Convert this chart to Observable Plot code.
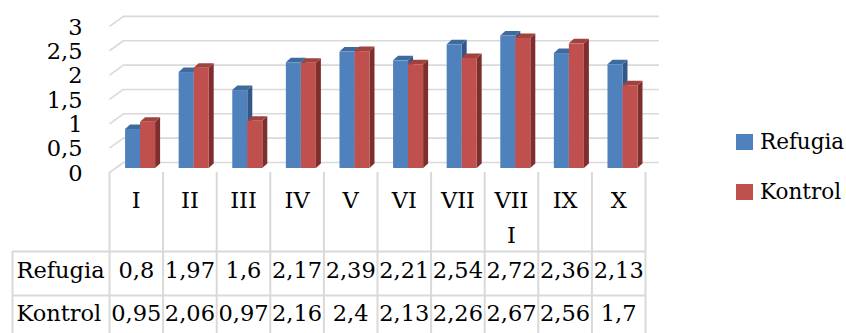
<!DOCTYPE html>
<html><head><meta charset="utf-8">
<script src="https://cdn.jsdelivr.net/npm/d3@7"></script>
<script src="https://cdn.jsdelivr.net/npm/@observablehq/plot@0.6"></script>
<style>
body{margin:0;background:#fff;}
#wrap{position:relative;width:846px;height:333px;font-family:"DejaVu Serif",serif;overflow:hidden;}
#wrap svg{position:absolute;left:0;top:0;}
.legend{position:absolute;left:736px;top:130px;font-size:21.5px;color:#000;line-height:24px;}
.legend .item{display:flex;align-items:center;height:24px;margin-bottom:26px;white-space:nowrap;}
.legend .sw{width:17px;height:16px;margin-right:7px;display:inline-block;}
</style></head><body><div id="wrap"></div>
<script>
// ---- data ----
const categories = ["I","II","III","IV","V","VI","VII","VIII","IX","X"];
const refugia = [0.8,1.97,1.6,2.17,2.39,2.21,2.54,2.72,2.36,2.13];
const kontrol = [0.95,2.06,0.97,2.16,2.4,2.13,2.26,2.67,2.56,1.7];
const seriesNames = ["Refugia","Kontrol"];
const yTicks = [0,0.5,1,1.5,2,2.5,3];

// ---- styles ----
const frontColors = ["#4F81BD","#C0504D"];
const topColors = ["#3E6A9D","#A2423F"];
const sideColors = ["#34578A","#7E2F2D"];
const gridColor = "#D9D9D9";
const fontSize = 22.5;

// ---- layout ----
const W = 846, H = 333;
const xLeft = 109, xRight = 645, y0 = 168, pxPerUnit = 48.7;
const barW = 0.28, barOff = [0.3, 0.58];
const depthDx = 5, depthDy = 4.5;       // bar depth (px)
const wallDx = 14, wallBack = 6, floorFront = 4; // wall/floor depth (px)
const ux = categories.length / (xRight - xLeft);
const uy = 1 / pxPerUnit;
const fmt = v => String(v).replace(".", ",");
const wrap = s => s.length > 3 ? [s.slice(0,3), s.slice(3)] : [s, ""];

const values = [refugia, kontrol];
const bars = [];
categories.forEach((c, i) => values.forEach((vals, s) => {
  const x1 = i + barOff[s];
  bars.push({id: c + "-" + s, s, x1, x2: x1 + barW, v: vals[i]});
}));
const dX = depthDx * ux, dY = depthDy * uy;
const sides = bars.flatMap(b => [
  {id: b.id, s: b.s, x: b.x2, y1: 0, y2: b.v},
  {id: b.id, s: b.s, x: b.x2 + dX, y1: dY, y2: b.v + dY}
]);
const tops = bars.flatMap(b => [
  {id: b.id, s: b.s, y: b.v, x1: b.x1, x2: b.x2},
  {id: b.id, s: b.s, y: b.v + dY, x1: b.x1 + dX, x2: b.x2 + dX}
]);
const idx = categories.map((c, i) => i);
const tableRowDy = [102, 145];

const chart = Plot.plot({
  width: W, height: H,
  margin: 0,
  style: {fontFamily: '"DejaVu Serif", serif', fontSize: fontSize + "px", color: "#000", background: "transparent"},
  x: {type: "linear", domain: [0, categories.length], range: [xLeft, xRight], axis: null},
  y: {type: "linear", domain: [0, 3], range: [y0, y0 - 3 * pxPerUnit], axis: null},
  color: {type: "identity"},
  marks: [
    // back wall gridlines
    Plot.ruleY(yTicks, {y: d => d + wallBack * uy, x1: wallDx * ux, x2: categories.length + wallDx * ux, stroke: gridColor, strokeWidth: 1.6}),
    Plot.link(yTicks, {x1: 0, y1: d => d - floorFront * uy, x2: wallDx * ux, y2: d => d + wallBack * uy, stroke: gridColor, strokeWidth: 1.6}),
    // bars (3D)
    Plot.areaY(sides, {x: "x", y1: "y1", y2: "y2", z: "id", fill: d => sideColors[d.s]}),
    Plot.areaX(tops, {y: "y", x1: "x1", x2: "x2", z: "id", fill: d => topColors[d.s]}),
    Plot.rect(bars, {x1: "x1", x2: "x2", y1: 0, y2: "v", fill: d => frontColors[d.s]}),
    // y tick labels
    Plot.text(yTicks, {x: 0, y: d => d, dx: -27, dy: floorFront + 1, text: fmt, textAnchor: "end", fill: "#000", fontSize: 22.5}),
    // data table grid
    Plot.ruleX(d3.range(categories.length + 1), {x: d => d, insetTop: y0 + floorFront, stroke: gridColor, strokeWidth: 2}),
    Plot.ruleX([0], {x: d => d, dx: -97, insetTop: y0 + 83, stroke: gridColor, strokeWidth: 2}),
    Plot.ruleY([0], {y: d => d, dy: 83, insetLeft: 12, insetRight: W - xRight, stroke: gridColor, strokeWidth: 2}),
    Plot.ruleY([0], {y: d => d, dy: 127, insetLeft: 12, insetRight: W - xRight, stroke: gridColor, strokeWidth: 2}),
    // category labels
    Plot.text(idx, {x: i => i + 0.5, y: 0, dy: 32, text: i => wrap(categories[i])[0], fill: "#000"}),
    Plot.text(idx, {x: i => i + 0.5, y: 0, dy: 67, text: i => wrap(categories[i])[1], fill: "#000"}),
    // row headers
    Plot.text([seriesNames[0]], {x: 0, y: 0, dx: -93, dy: tableRowDy[0], text: d => d, textAnchor: "start", fill: "#000"}),
    Plot.text([seriesNames[1]], {x: 0, y: 0, dx: -93, dy: tableRowDy[1], text: d => d, textAnchor: "start", fill: "#000"}),
    // row values
    Plot.text(idx, {x: i => i + 0.5, y: 0, dy: tableRowDy[0], text: i => fmt(refugia[i]), fill: "#000"}),
    Plot.text(idx, {x: i => i + 0.5, y: 0, dy: tableRowDy[1], text: i => fmt(kontrol[i]), fill: "#000"})
  ]
});
const wrapEl = document.getElementById("wrap");
wrapEl.appendChild(chart);

const legend = document.createElement("div");
legend.className = "legend";
seriesNames.forEach((n, s) => {
  const it = document.createElement("div");
  it.className = "item";
  const sw = document.createElement("span");
  sw.className = "sw"; sw.style.background = frontColors[s];
  it.appendChild(sw);
  it.appendChild(document.createTextNode(n));
  legend.appendChild(it);
});
wrapEl.appendChild(legend);
</script></body></html>
